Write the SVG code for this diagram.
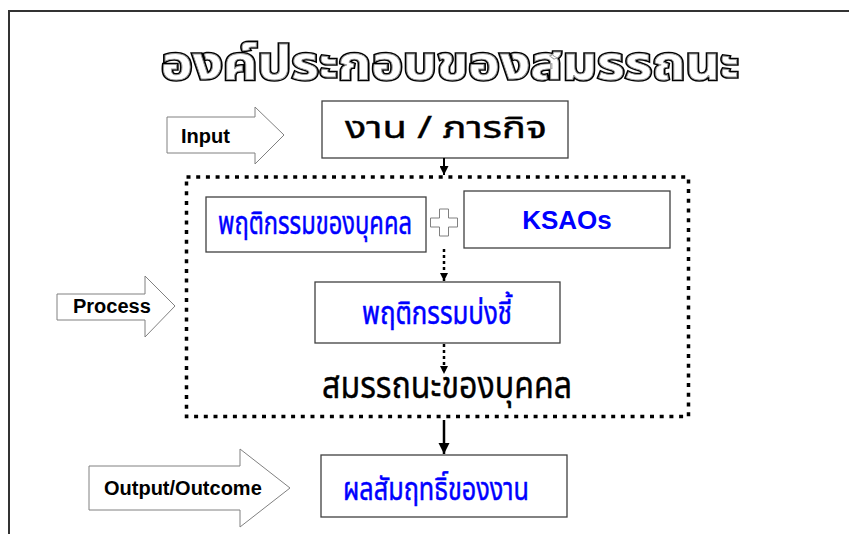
<svg xmlns="http://www.w3.org/2000/svg" width="849" height="534" viewBox="0 0 849 534">
<defs>
<style>
.th{font-family:Tahoma,"Noto Sans Thai","Loma","Garuda","Noto Sans",sans-serif;}
.en{font-family:"Liberation Sans",Arial,sans-serif;font-weight:bold;}
.box{fill:#fff;stroke:#404040;stroke-width:1.3;}
.blk{fill:#fff;stroke:#808080;stroke-width:1;}
.blue{fill:#0000ff;stroke:#0000ff;stroke-width:0.5;}
.dark{fill:#000;stroke:#000;stroke-width:0.4;}
.conn{stroke:#000;fill:none;}
</style>
<marker id="ah" viewBox="0 0 10 10" refX="10" refY="5" markerWidth="4.5" markerHeight="4.5" orient="auto" markerUnits="strokeWidth">
<path d="M0,0 L10,5 L0,10 z" fill="#000"/>
</marker>
<marker id="ahs" viewBox="0 0 10 10" refX="10" refY="5" markerWidth="3.2" markerHeight="3.2" orient="auto" markerUnits="strokeWidth">
<path d="M0,0 L10,5 L0,10 z" fill="#000"/>
</marker>
</defs>
<rect width="849" height="534" fill="#fff"/>
<g id="frame">
<polyline points="9,534 9,11 849,11" fill="none" stroke="#333" stroke-width="2"/>
</g>
<g id="title">
<text class="th" x="450" y="79" font-size="46" font-weight="bold" text-anchor="middle" textLength="578" lengthAdjust="spacingAndGlyphs" fill="none" stroke="#000" stroke-width="3.5">องค์ประกอบของสมรรถนะ</text>
<text class="th" x="450" y="79" font-size="46" font-weight="bold" text-anchor="middle" textLength="578" lengthAdjust="spacingAndGlyphs" fill="#fff" stroke="#999" stroke-width="0.8">องค์ประกอบของสมรรถนะ</text>
</g>
<g id="input-arrow">
<polygon class="blk" points="167,117 255,117 255,107 284,135 255,164 255,153 167,153"/>
<text class="en" x="181" y="143" font-size="20">Input</text>
</g>
<g id="process-arrow">
<polygon class="blk" points="57,294 145,294 145,276 175,306 145,337 145,320 57,320"/>
<text class="en" x="73" y="313" font-size="20">Process</text>
</g>
<g id="output-arrow">
<polygon class="blk" points="89,466 240,466 240,449 290,488 240,527 240,510 89,510"/>
<text class="en" x="104" y="495" font-size="20">Output/Outcome</text>
</g>
<g id="task">
<rect class="box" x="322" y="101" width="246" height="57"/>
<text class="th dark" x="446" y="138" font-size="30" text-anchor="middle" textLength="202" lengthAdjust="spacingAndGlyphs">งาน / ภารกิจ</text>
</g>
<g id="competency-frame">
<rect x="186.5" y="177" width="502" height="239.5" fill="none" stroke="#000" stroke-width="3.5" stroke-dasharray="4 5.7"/>
<text class="th dark" x="447" y="398" font-size="37" text-anchor="middle" textLength="250" lengthAdjust="spacingAndGlyphs">สมรรถนะของบุคคล</text>
</g>
<g id="behavior">
<rect class="box" x="206" y="197" width="220" height="55"/>
<text class="th blue" x="315" y="234" font-size="32" text-anchor="middle" textLength="194" lengthAdjust="spacingAndGlyphs">พฤติกรรมของบุคคล</text>
</g>
<g id="plus">
<polygon class="blk" points="439.5,209 448.5,209 448.5,218 457.5,218 457.5,227 448.5,227 448.5,236 439.5,236 439.5,227 430.5,227 430.5,218 439.5,218"/>
</g>
<g id="ksaos">
<rect class="box" x="464" y="191" width="206" height="57"/>
<text class="en" x="567" y="229" font-size="26" text-anchor="middle" fill="#0000ff">KSAOs</text>
</g>
<g id="indicator">
<rect class="box" x="315" y="282" width="245" height="61"/>
<text class="th blue" x="437" y="324" font-size="32" text-anchor="middle" textLength="150" lengthAdjust="spacingAndGlyphs">พฤติกรรมบ่งชี้</text>
</g>
<g id="result">
<rect class="box" x="321" y="455" width="246" height="62"/>
<text class="th blue" x="436" y="500" font-size="32" text-anchor="middle" textLength="186" lengthAdjust="spacingAndGlyphs">ผลสัมฤทธิ์ของงาน</text>
</g>
<g id="connectors">
<line class="conn" x1="444" y1="158" x2="444" y2="175" stroke-width="2" marker-end="url(#ah)"/>
<line class="conn" x1="444" y1="249" x2="444" y2="281" stroke-width="2.5" stroke-dasharray="3 3" marker-end="url(#ahs)"/>
<line class="conn" x1="444" y1="344" x2="444" y2="374" stroke-width="2.5" stroke-dasharray="3 3" marker-end="url(#ahs)"/>
<line class="conn" x1="444" y1="420" x2="444" y2="454" stroke-width="2.5" marker-end="url(#ah)"/>
</g>
</svg>
